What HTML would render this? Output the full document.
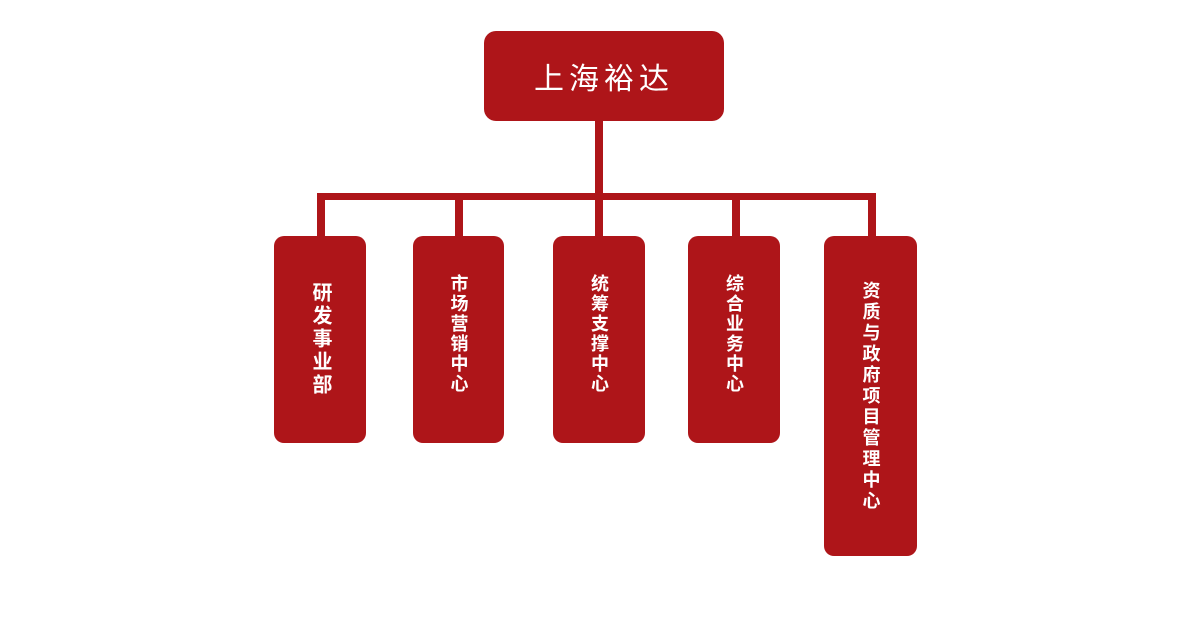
<!DOCTYPE html>
<html><head><meta charset="utf-8"><style>
body{margin:0;width:1183px;height:624px;background:#fff;position:relative;overflow:hidden;font-family:"Liberation Sans","Noto Sans CJK SC",sans-serif}
.r{position:absolute;background:#ae1519}
.b{position:absolute;background:#ae1519;border-radius:10px;color:#fff;display:flex;justify-content:center;align-items:center;font-weight:bold;font-size:18px;line-height:22px;writing-mode:vertical-rl;letter-spacing:2px}
</style></head><body>
<div class="r" style="left:484px;top:31px;width:240px;height:90px;border-radius:12px;color:#fff;font-size:30px;display:flex;align-items:center;justify-content:center;letter-spacing:5px">上海裕达</div>
<div class="r" style="left:595px;top:120px;width:8px;height:76px"></div>
<div class="r" style="left:317px;top:193px;width:559px;height:7px"></div>
<div class="r" style="left:317px;top:193px;width:8px;height:45px"></div>
<div class="r" style="left:455px;top:193px;width:8px;height:45px"></div>
<div class="r" style="left:595px;top:193px;width:8px;height:45px"></div>
<div class="r" style="left:732px;top:193px;width:8px;height:45px"></div>
<div class="r" style="left:868px;top:193px;width:8px;height:45px"></div>
<div class="b" style="left:274px;top:236px;width:92px;height:207px;font-size:20px;line-height:24px;letter-spacing:3px">研发事业部</div>
<div class="b" style="left:413px;top:236px;width:91px;height:195px">市场营销中心</div>
<div class="b" style="left:553px;top:236px;width:92px;height:195px">统筹支撑中心</div>
<div class="b" style="left:688px;top:236px;width:92px;height:195px">综合业务中心</div>
<div class="b" style="left:824px;top:236px;width:93px;height:320px;letter-spacing:3px">资质与政府项目管理中心</div>
<div class="r" style="left:413px;top:420px;width:91px;height:23px;border-radius:0 0 10px 10px"></div>
<div class="r" style="left:553px;top:420px;width:92px;height:23px;border-radius:0 0 10px 10px"></div>
<div class="r" style="left:688px;top:420px;width:92px;height:23px;border-radius:0 0 10px 10px"></div>
</body></html>
